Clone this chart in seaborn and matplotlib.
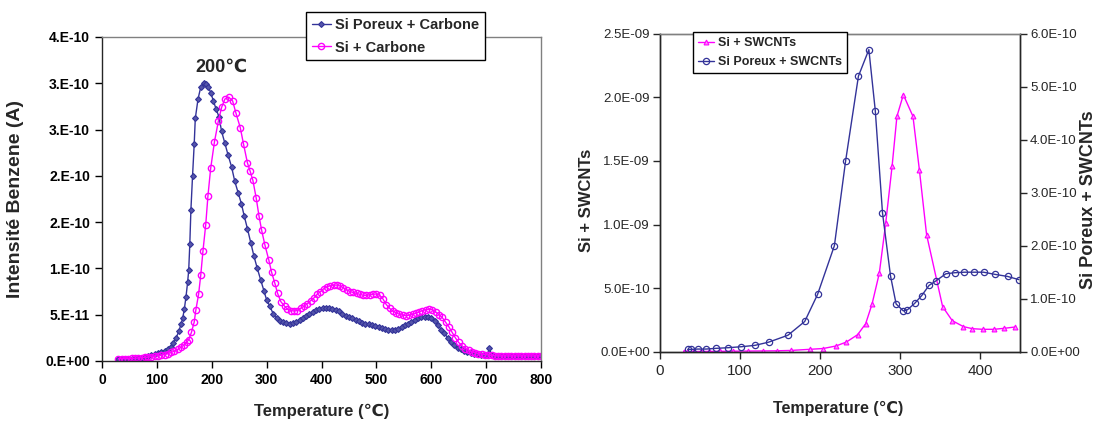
import numpy as np
import matplotlib
matplotlib.use('Agg')
import matplotlib.pyplot as plt
import seaborn as sns
from matplotlib.ticker import FuncFormatter

# ---- left panel : Si Poreux / Si + Carbone (intensity in 1e-10 A) ----
poreux_carb_T = [30, 36, 42, 48, 54, 60, 66, 72, 78, 84, 90, 96, 102, 108, 114, 120, 125, 130,
                 135, 140, 144, 147, 150, 153, 156, 158, 160, 162, 165, 168, 170, 175, 180, 185,
                 190, 194, 198, 203, 208, 213, 218, 224, 230, 236, 242, 248, 254, 259, 265, 271,
                 277, 283, 289, 295, 300, 306, 312, 318, 324, 330, 336, 342, 348, 354, 360, 366,
                 372, 378, 384, 390, 396, 402, 408, 414, 420, 426, 432, 438, 444, 450, 456, 462,
                 468, 474, 480, 486, 492, 498, 504, 510, 516, 522, 528, 534, 540, 546, 552, 558,
                 564, 570, 576, 582, 588, 594, 600, 606, 612, 618, 624, 630, 636, 642, 648, 654,
                 660, 666, 672, 678, 684, 690, 696, 702, 706, 710, 716, 722, 728, 734, 740, 746,
                 752, 758, 764, 770, 776, 782, 788, 794, 800]
poreux_carb_I = [0.02, 0.02, 0.02, 0.022, 0.025, 0.027, 0.03, 0.034, 0.04, 0.05, 0.06, 0.073,
                 0.088, 0.10, 0.11, 0.13, 0.154, 0.19, 0.25, 0.32, 0.40, 0.46, 0.56, 0.69, 0.85,
                 0.98, 1.26, 1.63, 2.00, 2.34, 2.62, 2.83, 2.96, 3.00, 2.99, 2.96, 2.90, 2.81,
                 2.72, 2.64, 2.48, 2.35, 2.22, 2.10, 1.94, 1.82, 1.70, 1.57, 1.43, 1.28, 1.13,
                 1.00, 0.88, 0.76, 0.66, 0.59, 0.51, 0.46, 0.435, 0.42, 0.41, 0.405, 0.41, 0.42,
                 0.44, 0.46, 0.49, 0.51, 0.53, 0.55, 0.56, 0.57, 0.575, 0.57, 0.565, 0.55, 0.535,
                 0.51, 0.49, 0.475, 0.46, 0.445, 0.43, 0.415, 0.405, 0.40, 0.39, 0.38, 0.37,
                 0.355, 0.345, 0.34, 0.34, 0.34, 0.35, 0.37, 0.385, 0.40, 0.425, 0.445, 0.46,
                 0.475, 0.48, 0.48, 0.465, 0.43, 0.39, 0.34, 0.30, 0.25, 0.21, 0.175, 0.145,
                 0.125, 0.11, 0.095, 0.085, 0.08, 0.075, 0.07, 0.065, 0.063, 0.14, 0.06, 0.058,
                 0.057, 0.056, 0.056, 0.056, 0.056, 0.056, 0.056, 0.056, 0.056, 0.056, 0.056,
                 0.056, 0.056, 0.056]

si_carb_T = [30, 36, 42, 48, 54, 60, 66, 72, 78, 84, 90, 96, 102, 108, 114, 120, 126, 132, 138,
             144, 149, 154, 158, 163, 168, 171, 176, 180, 184, 189, 193, 198, 205, 212, 218, 224,
             231, 238, 244, 252, 258, 265, 270, 275, 281, 286, 291, 297, 304, 309, 315, 320, 326,
             333, 338, 344, 350, 356, 362, 368, 374, 380, 386, 392, 398, 404, 410, 416, 422, 428,
             434, 440, 446, 452, 458, 464, 470, 476, 482, 488, 494, 500, 506, 512, 518, 524, 530,
             536, 542, 548, 554, 560, 566, 572, 578, 584, 590, 596, 602, 608, 614, 620, 626, 632,
             638, 644, 650, 656, 662, 668, 674, 680, 686, 692, 698, 704, 710, 716, 722, 728, 734,
             740, 746, 752, 758, 764, 770, 776, 782, 788, 794, 800]
si_carb_I = [0.025, 0.025, 0.025, 0.026, 0.028, 0.03, 0.032, 0.035, 0.038, 0.042, 0.047, 0.052,
             0.056, 0.062, 0.07, 0.08, 0.092, 0.107, 0.125, 0.15, 0.17, 0.20, 0.23, 0.31, 0.42,
             0.55, 0.72, 0.93, 1.19, 1.47, 1.78, 2.08, 2.37, 2.59, 2.74, 2.83, 2.85, 2.81, 2.68,
             2.52, 2.34, 2.14, 2.05, 1.95, 1.76, 1.57, 1.41, 1.25, 1.09, 0.96, 0.84, 0.73, 0.64,
             0.59, 0.56, 0.545, 0.54, 0.545, 0.57, 0.59, 0.62, 0.65, 0.68, 0.72, 0.75, 0.78,
             0.80, 0.815, 0.82, 0.82, 0.81, 0.79, 0.77, 0.75, 0.74, 0.73, 0.72, 0.71, 0.71,
             0.715, 0.72, 0.725, 0.71, 0.67, 0.61, 0.57, 0.54, 0.52, 0.505, 0.495, 0.49, 0.495,
             0.505, 0.515, 0.53, 0.545, 0.555, 0.56, 0.555, 0.53, 0.50, 0.47, 0.42, 0.37, 0.31,
             0.25, 0.20, 0.165, 0.135, 0.115, 0.10, 0.09, 0.08, 0.075, 0.07, 0.065, 0.06, 0.056,
             0.055, 0.055, 0.055, 0.055, 0.055, 0.055, 0.055, 0.055, 0.055, 0.055, 0.055, 0.055,
             0.055, 0.055]

left_yticks = [0, 0.5, 1.0, 1.5, 2.0, 2.5, 3.0, 3.5]
left_yticklabels = ['0.E+00', '5.E-11', '1.E-10', '2.E-10', '2.E-10', '3.E-10', '3.E-10', '4.E-10']

# ---- right panel : SWCNTs ----
si_swcnt_T = [30, 31, 34, 42, 52, 62, 75, 92, 110, 129, 146, 164, 188, 204, 220, 233, 247, 257,
              265, 274, 282, 290, 296, 304, 316, 324, 333, 353, 365, 379, 390, 403, 417, 430, 443]
si_swcnt_I = [0.0, 0.0, 0.0, 0.001, 0.002, 0.002, 0.003, 0.004, 0.005, 0.006, 0.007, 0.01,
              0.019, 0.025, 0.045, 0.076, 0.134, 0.22, 0.375, 0.616, 1.01, 1.46, 1.85, 2.02,
              1.85, 1.43, 0.92, 0.354, 0.244, 0.197, 0.181, 0.176, 0.176, 0.184, 0.194]  # 1e-9

poreux_swcnt_T = [35, 39, 48, 58, 70, 85, 102, 119, 136, 160, 181, 197, 218, 232, 248, 261, 269,
                  278, 288, 295, 304, 309, 318, 327, 336, 345, 357, 368, 380, 392, 404, 418, 434,
                  448]
poreux_swcnt_I = [0.044, 0.044, 0.05, 0.05, 0.063, 0.075, 0.094, 0.12, 0.18, 0.31, 0.57, 1.08,
                  2.0, 3.6, 5.2, 5.7, 4.55, 2.62, 1.43, 0.90, 0.77, 0.79, 0.91, 1.06, 1.25, 1.34,
                  1.47, 1.49, 1.50, 1.50, 1.50, 1.46, 1.42, 1.36]  # 1e-10

BLUE = '#333399'
PINK = '#FF00FF'

sns.set_style('ticks')
plt.rcParams['font.family'] = ['Liberation Sans', 'DejaVu Sans']
plt.rcParams['axes.linewidth'] = 1.0

fig = plt.figure(figsize=(11.03, 4.25), dpi=100)
ax = fig.add_axes([102 / 1103, 1 - 361 / 425, 439 / 1103, 324 / 425])
axr = fig.add_axes([659.6 / 1103, 1 - 351.7 / 425, 360.8 / 1103, 318 / 425])
axr2 = axr.twinx()

# left panel
sns.lineplot(x=poreux_carb_T, y=np.array(poreux_carb_I) * 1e-10, ax=ax, color=BLUE,
             linewidth=1.0, marker='D', markersize=3.0, markerfacecolor='#5555aa',
             markeredgecolor=BLUE, markeredgewidth=0.8, label='Si Poreux + Carbone')
sns.lineplot(x=si_carb_T, y=np.array(si_carb_I) * 1e-10, ax=ax, color=PINK,
             linewidth=1.0, marker='o', markersize=4.5, markerfacecolor='none',
             markeredgecolor=PINK, markeredgewidth=1.0, label='Si + Carbone')

ax.set_xlim(0, 800)
ax.set_ylim(0, 3.5e-10)
ax.set_xticks(range(0, 801, 100))
ax.set_yticks(np.array(left_yticks) * 1e-10)
ax.set_yticklabels(left_yticklabels)
ax.tick_params(axis='both', direction='out', length=5, width=1, labelsize=10, colors='black')
for lbl in ax.get_xticklabels() + ax.get_yticklabels():
    lbl.set_fontweight('bold')
ax.spines['top'].set_color('#808080')
ax.spines['right'].set_color('#808080')
ax.set_xlabel('Temperature (℃)', fontsize=12, fontweight='bold')
ax.set_ylabel('Intensité Benzene (A)', fontsize=14, fontweight='bold')
ax.xaxis.set_label_coords(0.5, -0.133)
ax.yaxis.set_label_coords(-0.178, 0.5)
ax.text(217, 3.17e-10, '200℃', ha='center', va='center', fontsize=13, fontweight='bold')

leg = ax.legend(loc='upper left', bbox_to_anchor=(306 / 1103, 1 - 12 / 425),
                bbox_transform=fig.transFigure, borderaxespad=0, fancybox=False,
                edgecolor='black', framealpha=1, handlelength=1.3, handletextpad=0.3,
                borderpad=0.4, labelspacing=0.6, prop={'weight': 'bold', 'size': 10.5})
leg.get_frame().set_linewidth(1.0)

# right panel
sns.lineplot(x=si_swcnt_T, y=np.array(si_swcnt_I) * 1e-9, ax=axr, color=PINK,
             linewidth=1.0, marker='^', markersize=3.5, markerfacecolor='#ff88ff',
             markeredgecolor=PINK, markeredgewidth=0.8, label='Si + SWCNTs', legend=False)
sns.lineplot(x=poreux_swcnt_T, y=np.array(poreux_swcnt_I) * 1e-10, ax=axr2, color=BLUE,
             linewidth=1.0, marker='o', markersize=4.5, markerfacecolor='none',
             markeredgecolor=BLUE, markeredgewidth=0.9, label='Si Poreux + SWCNTs', legend=False)

axr.set_xlim(0, 450)
axr.set_ylim(0, 2.5e-9)
axr2.set_ylim(0, 6e-10)
axr.set_xticks([0, 100, 200, 300, 400])
axr.set_yticks(np.arange(0, 2.51e-9, 0.5e-9))
axr2.set_yticks(np.arange(0, 6.01e-10, 1e-10))
axr.yaxis.set_major_formatter(FuncFormatter(lambda v, p: '{:.1E}'.format(v)))
axr2.yaxis.set_major_formatter(FuncFormatter(lambda v, p: '{:.1E}'.format(v)))
axr.tick_params(axis='x', direction='out', length=5, width=1, labelsize=11)
axr.tick_params(axis='y', direction='out', length=5, width=1, labelsize=9.5, pad=2)
axr2.tick_params(axis='y', direction='out', length=5, width=1, labelsize=9.5, pad=2)
axr2.spines['top'].set_color('#808080')
axr.spines['top'].set_color('#808080')
axr2.spines['right'].set_visible(True)
axr.set_xlabel('Temperature (℃)', fontsize=11.5, fontweight='bold')
axr.xaxis.set_label_coords(0.494, -0.155)
axr.set_ylabel('Si + SWCNTs', fontsize=12, fontweight='bold')
axr.yaxis.set_label_coords(-0.182, 0.477)
axr2.set_ylabel('Si Poreux + SWCNTs', fontsize=13, fontweight='bold', rotation=90)
axr2.yaxis.set_label_coords(1.165, 0.477)

handles = axr.get_lines()[:1] + axr2.get_lines()[:1]
leg2 = axr2.legend(handles, ['Si + SWCNTs', 'Si Poreux + SWCNTs'], loc='upper left',
                   bbox_to_anchor=(693 / 1103, 1 - 32 / 425), bbox_transform=fig.transFigure,
                   borderaxespad=0, fancybox=False, edgecolor='black', framealpha=1,
                   handlelength=1.3, handletextpad=0.3, borderpad=0.4, labelspacing=0.55,
                   prop={'weight': 'bold', 'size': 9})
leg2.get_frame().set_linewidth(1.0)

fig.savefig('out.png', dpi=100)
